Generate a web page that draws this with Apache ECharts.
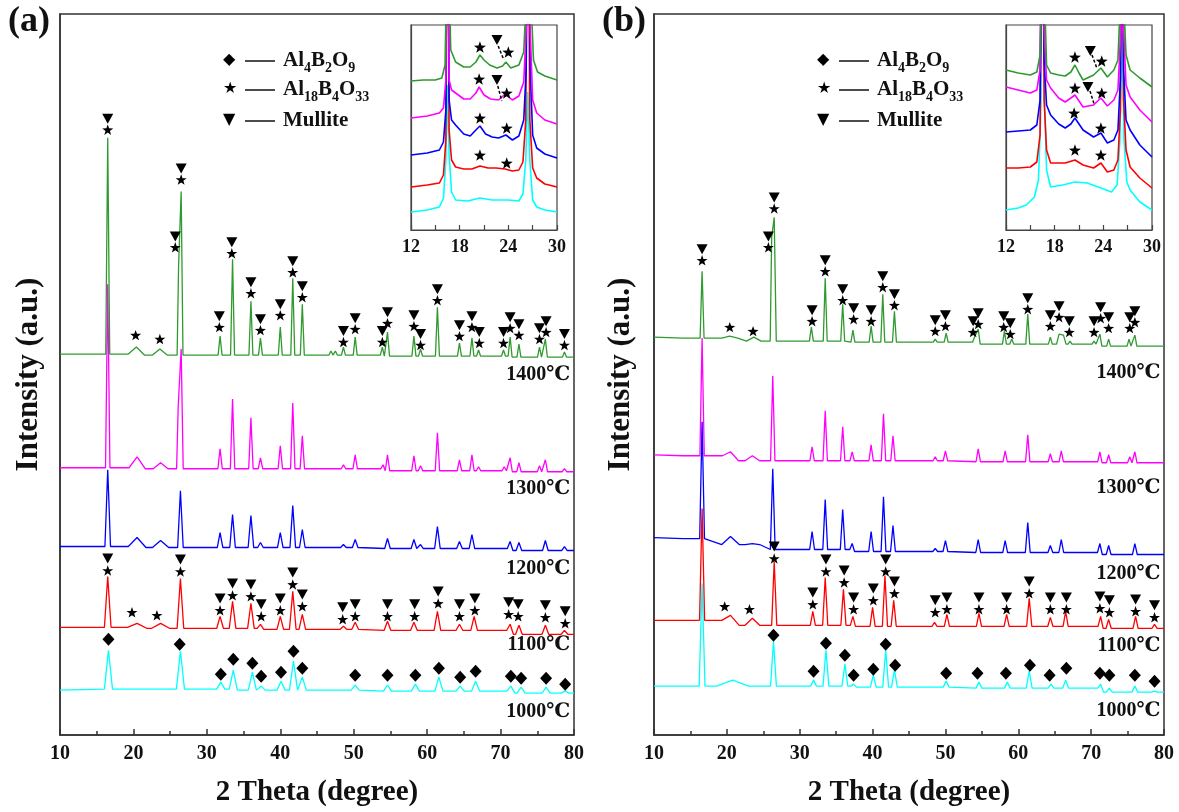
<!DOCTYPE html>
<html>
<head>
<meta charset="utf-8">
<script src="https://cdn.jsdelivr.net/npm/echarts@6/dist/echarts.min.js"></script>
<style>
  html, body { margin: 0; padding: 0; background: #fff; }
  #chart { width: 1179px; height: 812px; }
</style>
</head>
<body>
<div id="chart"></div>
<script>
const font = '"Times New Roman", "Liberation Serif", "DejaVu Serif", serif';

// XRD patterns, intensity in a.u.. [2theta, apex, optional half width]
// panel (a)
const a1400 = [[16.5,599],[20.4,389,1.1],[23.6,387,1.0],[26.15,470,0.2],[26.5,545,0.25],[31.8,400],[33.5,477],[36.0,435],[37.3,398],[40.0,409],[41.7,458],[43.0,432],[46.9,385],[47.5,385],[48.6,389],[50.2,399],[53.9,389],[54.6,404],[58.2,400],[59.1,387],[61.4,429],[64.4,393],[66.1,398],[67.0,386],[70.4,386],[71.3,399],[72.5,392],[75.3,389],[76.1,397],[78.7,384]];
const a1400Base = [[10,382],[30,381],[45,381],[62.5,380],[80,379]];
const a1300 = [[16.5,452],[20.5,279,1.1],[23.7,273,1.0],[26.1,330,0.22],[26.5,387,0.28],[31.8,287],[33.5,337],[36.0,318],[37.3,278],[40.0,290],[41.7,333],[43.0,300],[48.6,271],[50.2,281],[54.0,271],[54.6,281],[58.2,280],[59.1,270],[61.4,303],[64.4,276],[66.1,281],[67.0,269],[70.5,269],[71.3,278],[72.5,273],[75.3,270],[76.1,276],[78.7,267]];
const a1300Base = [[10,268],[30,267],[45,267],[62.5,265],[80,264]];
const a1200 = [[16.5,266],[20.5,198,1.2],[23.7,195,1.1],[26.4,245],[31.8,203],[33.5,221],[36.0,220],[37.3,193],[40.0,203],[41.7,230],[43.0,206],[48.6,191],[50.2,196],[54.6,197],[58.2,196],[59.1,191],[61.4,209],[64.4,194],[66.1,201],[71.3,194],[72.5,193],[76.1,195],[78.7,189]];
const a1200Base = [[10,189],[30,188],[45,188],[62.5,187],[80,185]];
const a1100 = [[16.5,159],[20.5,112,1.3],[23.7,112,1.2],[26.4,157],[31.8,119],[33.5,134],[36.0,132],[37.3,111],[40.0,119],[41.7,144],[43.0,121],[48.6,109],[50.2,113],[54.6,114],[58.2,113],[61.4,124],[64.4,111],[66.4,119],[71.3,111],[72.5,110],[76.1,110],[78.7,105]];
const a1100Base = [[10,108],[30,107],[45,106],[62.5,105],[80,101]];
const a1000 = [[16.6,85],[26.4,84],[31.9,53],[33.6,65],[36.2,63],[37.4,49],[40.1,54],[41.8,74],[43.0,58],[50.2,50],[54.6,50],[58.4,51],[61.6,58],[64.5,49],[66.6,54],[71.4,49],[72.8,48],[76.2,48],[78.8,44]];
const a1000Base = [[10,45],[22,46],[45,45],[62.5,44],[80,42]];

// panel (b)
const b1400 = [[16.6,465],[20.4,400,1.1],[23.7,399,1.0],[26.15,499,0.2],[26.5,519,0.28],[31.6,409],[33.5,458],[35.9,432],[37.3,406],[39.8,410],[41.4,442],[43.0,425],[48.6,397],[50.1,403],[54.0,399],[54.5,407],[58.1,405],[59.1,397],[61.3,422],[64.4,399],[65.6,402,0.35],[66.2,401,0.35],[67.1,395],[70.4,395],[71.2,402],[72.4,397],[75.2,397],[76.0,401],[78.8,392]];
const b1400Base = [[10,399],[14,398],[29,395],[45,394],[62.5,392],[80,390]];
const b1300 = [[16.6,398],[20.5,284,1.1],[23.5,280,1.0],[26.3,360],[31.7,289],[33.5,325],[35.9,309],[37.2,284],[39.8,291],[41.5,322],[42.8,300],[48.6,279],[50.0,285],[54.5,287],[58.2,285],[61.3,301],[64.4,282],[65.9,285],[71.2,284],[72.4,281],[75.3,279],[76.0,284]];
const b1300Base = [[10,281],[14,280],[29,275],[45,275],[62.5,274],[80,273]];
const b1200 = [[16.6,314],[20.5,199,1.2],[23.5,192,1.0],[26.3,267],[31.7,204],[33.5,236],[35.9,226],[37.2,192],[39.8,204],[41.5,239],[42.8,210],[48.6,187],[50.0,195],[54.5,196],[58.2,195],[61.3,213],[64.4,190],[65.9,196],[71.2,192],[72.4,190],[76.0,192]];
const b1200Base = [[10,198],[14,197],[22,191],[29,186],[45,184],[62.5,183],[80,181]];
const b1100 = [[16.6,227],[20.5,120,1.2],[23.5,117,1.0],[26.5,174],[31.8,124],[33.5,158],[36.0,146],[37.3,119],[40.0,128],[41.7,160],[42.9,135],[48.5,113],[50.2,121],[54.6,122],[58.4,121],[61.5,137],[64.4,118],[66.5,124],[71.3,119],[72.4,116],[76.1,119],[78.7,111]];
const b1100Base = [[10,115],[14,115],[29,110],[45,109],[62.5,109],[80,107]];
const b1000 = [[16.6,152],[20.8,55,2.2],[26.4,94],[31.9,55],[33.6,85],[36.2,71],[37.4,51],[40.1,60],[41.8,85],[43.0,65],[50.1,54],[54.6,53],[58.5,53],[61.5,64],[64.5,51],[66.5,55],[71.3,51],[72.5,47],[76.0,49],[78.7,44]];
const b1000Base = [[10,49],[14,49],[29,49],[45,48],[62.5,47],[80,43]];

// phase marks: [2theta, star height, mullite triangle above (1/0)]
const aMk1400 = [[16.5,607,1],[20.3,401,0],[23.6,397,0],[25.7,489,1],[26.5,557,1],[31.7,409,1],[33.4,483,1],[36.0,443,1],[37.3,406,1],[40.0,421,1],[41.7,464,1],[43.0,439,1],[48.6,394,1],[50.2,407,1],[53.9,394,1],[54.6,413,1],[58.2,410,1],[59.1,391,1],[61.4,436,1],[64.4,400,1],[66.1,409,1],[67.1,393,1],[70.4,393,1],[71.3,408,1],[72.5,401,1],[75.3,397,1],[76.2,404,1],[78.7,391,1]];
const aMk1100 = [[16.5,165,1],[19.8,123,0],[23.2,120,0],[26.4,164,1],[31.8,125,1],[33.5,140,1],[36.0,139,1],[37.4,119,1],[40.0,125,1],[41.7,151,1],[43.0,129,1],[48.5,116,1],[50.2,119,1],[54.6,119,1],[58.3,119,1],[61.5,132,1],[64.4,119,1],[66.5,125,1],[71.1,121,1],[72.4,119,1],[76.1,118,1],[78.8,112,1]];
const aDia1000 = [[16.6,96],[26.3,91],[31.9,61],[33.6,76],[36.2,72],[37.4,59],[40.1,63],[41.8,84],[43.0,67],[50.2,60],[54.6,60],[58.4,60],[61.6,67],[64.5,58],[66.6,64],[71.4,59],[72.8,57],[76.2,57],[78.8,51]];
const bMk1400 = [[16.6,476,1],[20.4,409,0],[23.6,405,0],[25.7,489,1],[26.5,528,1],[31.7,415,1],[33.5,465,1],[35.9,436,1],[37.4,417,1],[39.8,415,1],[41.4,449,1],[43.0,431,1],[48.6,405,1],[50.0,410,1],[53.8,404,1],[54.5,412,1],[58.0,409,1],[58.9,402,1],[61.3,427,1],[64.4,410,1],[65.6,419,1],[67.0,404,1],[70.4,404,1],[71.3,418,1],[72.4,408,1],[75.3,408,1],[76.0,414,1]];
const bMk1100 = [[19.7,129,0],[23.1,126,0],[26.5,177,1],[31.8,131,1],[33.6,164,1],[36.1,153,1],[37.4,126,1],[40.1,135,1],[41.8,164,1],[43.0,142,1],[48.6,123,1],[50.2,126,1],[54.6,126,1],[58.4,126,1],[61.5,142,1],[64.4,126,1],[66.6,126,1],[71.2,127,1],[72.5,123,1],[76.1,124,1],[78.7,118,1]];
const bDia1000 = [[26.4,100],[31.9,64],[33.6,92],[36.2,80],[37.4,60],[40.1,66],[41.8,91],[43.1,70],[50.1,62],[54.4,62],[58.3,62],[61.6,70],[64.3,60],[66.6,67],[71.2,62],[72.5,60],[76.0,60],[78.7,54]];

// insets 12-30 deg (zoomed)
const iaGreen = [[12,149],[13.5,150],[15,150],[15.8,152],[16.2,165],[16.4,260],[16.5,420],[16.65,260],[16.9,180],[17.5,168],[18.5,163],[19.3,163],[20.0,168],[20.5,175],[21.0,170],[21.7,165],[22.6,162],[23.3,164],[23.7,168],[24.3,162],[25.3,165],[25.9,178],[26.2,230],[26.4,420],[26.6,420],[26.8,230],[27.1,170],[27.6,158],[28.5,154],[30,150]];
const iaMag = [[12,112],[14,114],[15.5,117],[16.0,122],[16.3,150],[16.5,420],[16.7,150],[17.0,140],[17.5,137],[18.5,131],[19.3,131],[20.0,137],[20.4,143],[21.0,135],[21.8,131],[22.8,130],[23.6,136],[24.5,130],[25.3,134],[25.9,148],[26.2,200],[26.45,420],[26.7,200],[27.0,130],[27.5,117],[28.5,110],[30,106]];
const iaBlue = [[12,75],[14,77],[15.5,80],[16.0,88],[16.3,120],[16.5,420],[16.7,130],[17.0,110],[17.5,105],[18.5,96],[19.3,94],[20.0,100],[20.5,104],[21.2,96],[22.0,93],[22.8,92],[23.7,95],[24.5,90],[25.3,94],[25.9,110],[26.2,160],[26.45,420],[26.7,160],[27.0,95],[27.5,82],[28.5,76],[30,72]];
const iaRed = [[12,43],[14,45],[15.5,47],[16.0,55],[16.3,90],[16.5,420],[16.7,100],[17.0,70],[17.5,63],[18.5,61],[19.5,61],[20.5,64],[21.5,62],[22.5,62],[23.6,61],[24.5,59],[25.3,60],[25.8,68],[26.15,110],[26.4,420],[26.65,110],[27.0,62],[27.5,52],[28.5,46],[30,43]];
const iaCyan = [[12,18],[14,20],[15.5,23],[16.0,32],[16.3,70],[16.5,145],[16.7,75],[17.0,38],[17.5,30],[19.0,29],[20.5,32],[22.0,30],[24.0,30],[25.3,29],[25.8,36],[26.15,70],[26.4,138],[26.65,70],[27.0,30],[27.5,23],[28.5,20],[30,18]];
const iaStar = [[20.5,183],[24.0,178],[20.4,151],[23.8,137],[20.5,112],[23.8,102],[20.5,75],[23.8,67]];
const iaTri = [[22.6,190],[22.6,150]];
const iaDash = [[[22.75,184],[23.45,170]], [[22.7,144],[23.2,129]]];

const ibGreen = [[12,160],[13.5,157],[15.0,155],[15.8,158],[16.2,175],[16.4,250],[16.5,420],[16.7,250],[17.0,165],[17.5,157],[18.5,155],[19.3,154],[20.0,158],[20.5,165],[21.0,157],[21.5,150],[22.8,155],[23.7,162],[24.5,153],[25.3,160],[25.8,170],[26.1,230],[26.3,420],[26.5,230],[26.8,175],[27.3,160],[28.5,152],[30,143]];
const ibMag = [[12,143],[13.5,140],[15,137],[15.8,140],[16.2,160],[16.5,420],[16.7,200],[17.0,150],[17.5,142],[18.5,132],[19.3,128],[20.0,132],[20.5,135],[21.5,123],[22.8,125],[23.7,132],[24.5,124],[25.3,130],[25.8,140],[26.1,190],[26.3,420],[26.5,200],[26.8,145],[27.3,133],[28.5,120],[30,108]];
const ibBlue = [[12,98],[13.5,99],[15,100],[15.8,105],[16.2,130],[16.5,420],[16.7,170],[17.0,125],[17.5,115],[18.5,106],[19.3,102],[20.0,106],[20.5,112],[21.5,100],[22.8,93],[23.7,97],[24.5,87],[25.3,90],[25.8,100],[26.1,150],[26.3,420],[26.5,160],[26.8,110],[27.3,100],[28.5,85],[30,73]];
const ibRed = [[12,62],[13.5,62],[15,63],[15.8,68],[16.2,95],[16.5,420],[16.7,130],[17.0,80],[17.5,67],[18.5,67],[19.3,67],[20.5,70],[21.5,65],[22.8,62],[23.7,67],[24.5,58],[25.3,60],[25.8,70],[26.1,120],[26.3,420],[26.5,130],[26.8,80],[27.3,63],[28.5,52],[30,42]];
const ibCyan = [[12,20],[13.5,22],[14.5,25],[15.5,33],[16.0,50],[16.3,120],[16.5,420],[16.75,130],[17.0,60],[17.5,43],[19.0,45],[20.5,48],[22.0,47],[23.7,42],[25.0,38],[25.7,45],[26.05,90],[26.3,197],[26.55,90],[26.9,48],[27.3,40],[28.5,28],[30,20]];
const ibStar = [[20.5,173],[23.8,169],[20.5,142],[23.8,137],[20.4,117],[23.7,102],[20.5,80],[23.7,75]];
const ibTri = [[22.4,179],[22.1,143]];
const ibDash = [[[22.6,175],[23.2,162]], [[22.35,139],[22.9,125]]];

const temps = ['1400℃', '1300℃', '1200℃', '1100℃', '1000℃'];
const tempYA = [361, 247, 167, 90, 23];
const tempYB = [363, 248, 162, 89, 24];
const colors = ['#2f9a2f', '#ff00ff', '#0000ff', '#ff0000', '#00ffff'];

const STAR = 'path://M0,-10L2.35,-3.24L9.51,-3.09L3.8,1.24L5.88,8.09L0,4L-5.88,8.09L-3.8,1.24L-9.51,-3.09L-2.35,-3.24Z';

// stick peaks -> polyline, feet sit on the nearest baseline reading
function profile(peaks, base, w) {
  const level = x => base.reduce((b, p) => Math.abs(p[0] - x) < Math.abs(b[0] - x) ? p : b)[1];
  const pts = base.map(p => [p[0], p[1]]);
  peaks.forEach(([x, y, pw]) => {
    const hw = pw || w;
    [x - hw, x + hw].forEach(fx => {
      const inside = peaks.some(q => q[0] !== x && Math.abs(fx - q[0]) < (q[2] || w));
      if (!inside) pts.push([fx, level(fx)]);
    });
    pts.push([x, y]);
  });
  return pts.sort((a, b) => a[0] - b[0]);
}

const chart = echarts.init(document.getElementById('chart'));

const axisCol = '#333';
const labelStyle = { fontFamily: font, fontWeight: 'bold', color: '#111' };

function mainX(gi) {
  return {
    gridIndex: gi, type: 'value', min: 10, max: 80, interval: 10,
    axisLine: { lineStyle: { color: axisCol, width: 1.5 } },
    axisTick: { inside: true, length: 6, lineStyle: { color: axisCol, width: 1.5 } },
    minorTick: { show: true, splitNumber: 2, length: 4, lineStyle: { color: axisCol, width: 1.5 } },
    splitLine: { show: false },
    axisLabel: { ...labelStyle, fontSize: 20, margin: 9 },
    name: '2 Theta (degree)', nameLocation: 'middle', nameGap: 43,
    nameTextStyle: { ...labelStyle, fontSize: 29 }
  };
}
function mainY(gi, gap) {
  return {
    gridIndex: gi, type: 'value', min: 0, max: 723,
    axisLine: { lineStyle: { color: axisCol, width: 1.5 } },
    axisTick: { show: false }, axisLabel: { show: false }, splitLine: { show: false },
    name: 'Intensity (a.u.)', nameLocation: 'middle', nameGap: gap, nameRotate: 90,
    nameTextStyle: { ...labelStyle, fontSize: 31 }
  };
}
function insetX(gi) {
  return {
    gridIndex: gi, type: 'value', min: 12, max: 30, interval: 6,
    axisLine: { lineStyle: { color: '#444', width: 1.2 } },
    axisTick: { inside: true, length: 5, lineStyle: { color: '#444', width: 1.2 } },
    minorTick: { show: true, splitNumber: 2, length: 5, lineStyle: { color: '#444', width: 1.2 } },
    splitLine: { show: false },
    axisLabel: { ...labelStyle, fontSize: 18, margin: 8 }
  };
}
function insetY(gi) {
  return {
    gridIndex: gi, type: 'value', min: 0, max: 205,
    axisLine: { lineStyle: { color: '#444', width: 1.2 } },
    axisTick: { show: false }, axisLabel: { show: false }, splitLine: { show: false }
  };
}

function lineSeries(gi, data, color, width) {
  return {
    type: 'line', xAxisIndex: gi, yAxisIndex: gi, data: data, showSymbol: false, symbol: 'none',
    lineStyle: { color: color, width: width }, clip: true, z: 2
  };
}
const black = { color: '#000', opacity: 1 };
function starSeries(gi, data, size) {
  return { type: 'scatter', xAxisIndex: gi, yAxisIndex: gi, data: data, symbol: STAR, symbolKeepAspect: true,
    symbolSize: size, itemStyle: black, z: 5 };
}
function triSeries(gi, data, size) {
  return { type: 'scatter', xAxisIndex: gi, yAxisIndex: gi, data: data, symbol: 'triangle', symbolRotate: 180,
    symbolSize: size, itemStyle: black, z: 5 };
}
function diaSeries(gi, data) {
  return { type: 'scatter', xAxisIndex: gi, yAxisIndex: gi, data: data, symbol: 'diamond',
    symbolSize: [12, 13], itemStyle: black, z: 5 };
}
function markSeries(gi, marks, off) {
  return [
    starSeries(gi, marks.map(m => [m[0], m[1]]), 11),
    triSeries(gi, marks.filter(m => m[2]).map(m => [m[0], m[1] + off]), [11, 10])
  ];
}
function tempSeries(gi, ys) {
  return {
    type: 'scatter', xAxisIndex: gi, yAxisIndex: gi, symbolSize: 0, z: 6, itemStyle: { opacity: 1 },
    data: temps.map((t, i) => ({ name: t, value: [79.5, ys[i]] })),
    label: { show: true, position: 'left', distance: 0, formatter: p => p.name, ...labelStyle, fontSize: 20, color: '#111', opacity: 1 }
  };
}

const series = [];
// panel a
[[a1000, a1000Base, 0.55, 4], [a1100, a1100Base, 0.45, 3], [a1200, a1200Base, 0.38, 2],
 [a1300, a1300Base, 0.3, 1], [a1400, a1400Base, 0.27, 0]].forEach(([p, b, w, ci]) => {
  series.push(lineSeries(0, profile(p, b, w), colors[ci], 1.3));
});
series.push(...markSeries(0, aMk1400, 11), ...markSeries(0, aMk1100, 12), diaSeries(0, aDia1000), tempSeries(0, tempYA));
// panel b
[[b1000, b1000Base, 0.4, 4], [b1100, b1100Base, 0.35, 3], [b1200, b1200Base, 0.33, 2],
 [b1300, b1300Base, 0.3, 1], [b1400, b1400Base, 0.27, 0]].forEach(([p, b, w, ci]) => {
  series.push(lineSeries(1, profile(p, b, w), colors[ci], 1.3));
});
series.push(...markSeries(1, bMk1400, 11), ...markSeries(1, bMk1100, 12), diaSeries(1, bDia1000), tempSeries(1, tempYB));
// insets
[[iaCyan, 4], [iaRed, 3], [iaBlue, 2], [iaMag, 1], [iaGreen, 0]].forEach(([d, ci]) => series.push(lineSeries(2, d, colors[ci], 1.6)));
[[ibCyan, 4], [ibRed, 3], [ibBlue, 2], [ibMag, 1], [ibGreen, 0]].forEach(([d, ci]) => series.push(lineSeries(3, d, colors[ci], 1.6)));
series.push(starSeries(2, iaStar, 12), triSeries(2, iaTri, [11, 10]), starSeries(3, ibStar, 12), triSeries(3, ibTri, [11, 10]));
iaDash.forEach(d => series.push({ type: 'line', xAxisIndex: 2, yAxisIndex: 2, data: d, symbol: 'none', lineStyle: { color: '#000', width: 1.5, type: [3, 2] }, z: 4 }));
ibDash.forEach(d => series.push({ type: 'line', xAxisIndex: 3, yAxisIndex: 3, data: d, symbol: 'none', lineStyle: { color: '#000', width: 1.5, type: [3, 2] }, z: 4 }));

// legend (drawn as graphic, the figure uses symbol — line — formula)
const legendRows = [
  ['◆', '{n|Al}{s|4}{n|B}{s|2}{n|O}{s|9}'],
  ['★', '{n|Al}{s|18}{n|B}{s|4}{n|O}{s|33}'],
  ['▼', '{n|Mullite}']
];
const rowY = [61, 90, 121];
function legend(x0) {
  const els = [];
  legendRows.forEach((r, i) => {
    els.push({ type: 'text', left: x0 - 8, top: rowY[i] - 9, style: { text: r[0], font: '16px "DejaVu Sans"', fill: '#000' } });
    els.push({ type: 'line', shape: { x1: x0 + 14, y1: rowY[i], x2: x0 + 44, y2: rowY[i] }, style: { stroke: '#111', lineWidth: 1.5 } });
    els.push({ type: 'text', x: x0 + 52, y: rowY[i], style: {
      text: r[1], verticalAlign: 'middle',
      rich: {
        n: { fontFamily: font, fontWeight: 'bold', fontSize: 21, lineHeight: 28, fill: '#111' },
        s: { fontFamily: font, fontWeight: 'bold', fontSize: 14, lineHeight: 28, verticalAlign: 'bottom', fill: '#111' }
      } } });
  });
  return els;
}

chart.setOption({
  animation: false,
  backgroundColor: '#fff',
  grid: [
    { left: 60, top: 14, width: 514, height: 723, show: true, borderColor: axisCol, borderWidth: 1.5, backgroundColor: 'transparent' },
    { left: 654, top: 14, width: 510, height: 723, show: true, borderColor: axisCol, borderWidth: 1.5, backgroundColor: 'transparent' },
    { left: 411, top: 25, width: 146, height: 205, show: true, borderColor: '#444', borderWidth: 1.2, backgroundColor: '#fff' },
    { left: 1006, top: 25, width: 146, height: 205, show: true, borderColor: '#444', borderWidth: 1.2, backgroundColor: '#fff' }
  ],
  xAxis: [mainX(0), mainX(1), insetX(2), insetX(3)],
  yAxis: [mainY(0, 16), mainY(1, 18), insetY(2), insetY(3)],
  series: series,
  graphic: [
    { type: 'text', left: 8, top: 4, style: { text: '(a)', fontFamily: font, fontWeight: 'bold', fontSize: 36, fill: '#111' } },
    { type: 'text', left: 602, top: 4, style: { text: '(b)', fontFamily: font, fontWeight: 'bold', fontSize: 36, fill: '#111' } },
    ...legend(231),
    ...legend(825)
  ]
});
</script>
</body>
</html>
